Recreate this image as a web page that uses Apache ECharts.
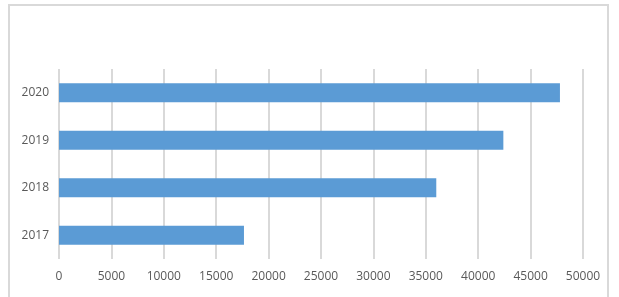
<!DOCTYPE html>
<html><head><meta charset="utf-8">
<script src="https://cdn.jsdelivr.net/npm/echarts@6/dist/echarts.min.js"></script>
<style>html,body{margin:0;padding:0;background:#fff}#c{width:619px;height:297px}</style>
</head><body><div id="c"></div>
<script>
const categories = ['2017', '2018', '2019', '2020'];
const values = [17650, 36000, 42400, 47800];
const chart = echarts.init(document.getElementById('c'), null, {renderer: 'canvas'});
const font = '"Open Sans", "Noto Sans", sans-serif';
chart.setOption({
  animation: false,
  graphic: [{type: 'rect', shape: {x: 9, y: 5, width: 599, height: 300}, style: {fill: 'none', stroke: '#d9d9d9', lineWidth: 2}}],
  grid: {left: 59, right: 36, top: 69, bottom: 38},
  xAxis: {
    type: 'value', min: 0, max: 50000, interval: 5000,
    axisLine: {show: false}, axisTick: {show: false},
    splitLine: {lineStyle: {color: '#d9d9d9', width: 2}},
    axisLabel: {color: '#595959', fontSize: 12, fontFamily: font, margin: 12, formatter: v => String(v)}
  },
  yAxis: {
    type: 'category', data: categories,
    axisLine: {show: false}, axisTick: {show: false},
    axisLabel: {color: '#595959', fontSize: 12, fontFamily: font, margin: 10}
  },
  series: [{type: 'bar', data: values, barCategoryGap: '60%', itemStyle: {color: '#5b9bd5'}}]
});
</script></body></html>
